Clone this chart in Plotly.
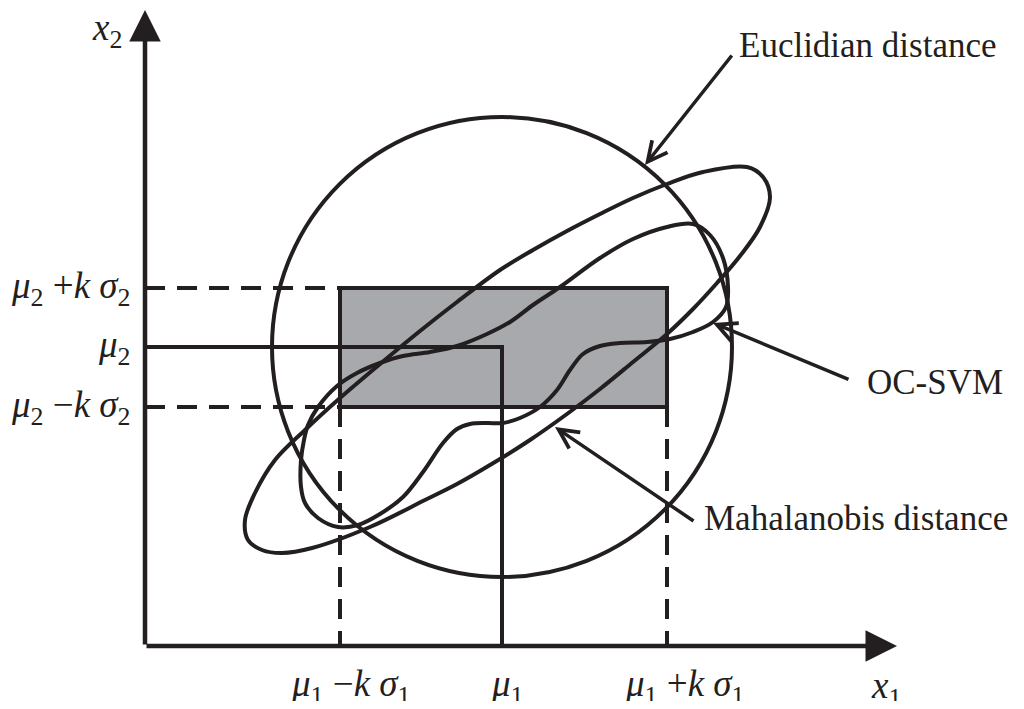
import plotly.graph_objects as go

# Chart units: 1 unit = 1 px, origin where the two axes meet.
INK = "#231f20"
GRAY = "#a7a9ac"
FONT = "Liberation Serif"

# Tick positions on x1 (mu1 - k sigma1, mu1, mu1 + k sigma1) and x2
x_ticks = [195, 357, 522]
y_ticks = [239, 299, 358]
x_tick_labels = ["<i>μ</i><sub>1</sub> −<i>k σ</i><sub>1</sub>",
                 "<i>μ</i><sub>1</sub>",
                 "<i>μ</i><sub>1</sub> +<i>k σ</i><sub>1</sub>"]
y_tick_labels = ["<i>μ</i><sub>2</sub> −<i>k σ</i><sub>2</sub>",
                 "<i>μ</i><sub>2</sub>",
                 "<i>μ</i><sub>2</sub> +<i>k σ</i><sub>2</sub>"]

# Euclidian boundary: circle round (mu1, mu2)
circle_radius = 230

# Mahalanobis boundary (traced ellipse)
ellipse_x = [312, 355, 388, 422, 455, 488, 522, 558, 602, 618, 625, 615,
             595, 572, 548, 522, 488, 455, 422, 385, 345, 312, 280, 225,
             167, 137, 117, 103, 100, 110, 130, 160, 195, 235, 275, 312]
ellipse_y = [344, 376, 396, 415, 432, 448, 462, 474, 479, 469, 449, 419,
             390, 363, 337, 312, 284, 257, 232, 206, 181, 162, 146, 119,
             98, 93, 96, 106, 126, 153, 186, 216, 248, 282, 315, 344]

# OC-SVM boundary (traced)
svm_x = [285, 312, 342, 365, 388, 415, 455, 488, 522, 548, 565, 578, 583,
         581, 568, 548, 525, 502, 475, 455, 438, 425, 412, 395, 375, 358,
         342, 325, 312, 298, 278, 258, 235, 213, 193, 173, 160, 156, 156,
         159, 163, 173, 192, 212, 235, 258, 285]
svm_y = [294, 300, 312, 324, 341, 359, 388, 407, 419, 422, 411, 388, 359,
         339, 324, 314, 307, 304, 303, 300, 292, 276, 256, 239, 228, 223,
         223, 222, 217, 203, 174, 149, 132, 121, 119, 128, 143, 159, 186,
         206, 221, 239, 260, 273, 283, 290, 294]

# Pointer arrows: (tip x, tip y, tail x, tail y) and their captions
pointers = [(500, 481, 588, 592), (568, 323, 705, 266), (410, 219, 550, 124)]
captions = ["Euclidian distance", "OC-SVM", "Mahalanobis distance"]
caption_pos = [(592, 601), (720, 264), (557, 128)]

fig = go.Figure()

# shaded k-sigma box
fig.add_shape(type="rect", x0=x_ticks[0], x1=x_ticks[2],
              y0=y_ticks[0], y1=y_ticks[2], fillcolor=GRAY,
              line=dict(color=INK, width=4), layer="below")

# circle
cx, cy = x_ticks[1], y_ticks[1]
fig.add_shape(type="circle", x0=cx - circle_radius, x1=cx + circle_radius,
              y0=cy - circle_radius, y1=cy + circle_radius,
              line=dict(color=INK, width=4), layer="below")

# dashed guide lines
fig.add_trace(go.Scatter(
    x=[0, x_ticks[0], None, 0, x_ticks[0], None,
       x_ticks[0], x_ticks[0], None, x_ticks[2], x_ticks[2]],
    y=[y_ticks[2], y_ticks[2], None, y_ticks[0], y_ticks[0], None,
       y_ticks[0], 0, None, y_ticks[0], 0],
    mode="lines", line=dict(color=INK, width=4, dash="20px,12px"),
    hoverinfo="skip"))

# solid mean lines
fig.add_trace(go.Scatter(
    x=[0, x_ticks[1], x_ticks[1]], y=[y_ticks[1], y_ticks[1], 0],
    mode="lines", line=dict(color=INK, width=4), hoverinfo="skip"))

# ellipse and OC-SVM curves
for xs, ys in [(ellipse_x, ellipse_y), (svm_x, svm_y)]:
    fig.add_trace(go.Scatter(
        x=xs, y=ys, mode="lines",
        line=dict(color=INK, width=4, shape="spline", smoothing=1),
        hoverinfo="skip"))

annotations = []

# coordinate axes with arrowheads
for tip, tail in [((752, 0), (0, 0)), ((0, 636), (0, 0))]:
    annotations.append(dict(
        x=tip[0], y=tip[1], ax=tail[0], ay=tail[1], xref="x", yref="y",
        axref="x", ayref="y", text="", showarrow=True, arrowhead=2,
        arrowsize=1.4, arrowwidth=4.5, arrowcolor=INK, font=dict(size=12)))

annotations.append(dict(x=-38, y=616, text="<i>x</i><sub>2</sub>",
                        showarrow=False, font=dict(size=37)))
annotations.append(dict(x=741, y=-42, text="<i>x</i><sub>1</sub>",
                        showarrow=False, font=dict(size=37)))

# tick labels
for xv, label, shift in zip(x_ticks, x_tick_labels, [11, 5, 18]):
    annotations.append(dict(x=xv, y=-40, text=label, showarrow=False,
                            xshift=shift, font=dict(size=37)))
for yv, label in zip(y_ticks, y_tick_labels):
    annotations.append(dict(x=-12, y=yv, text=label, showarrow=False,
                            xanchor="right", font=dict(size=37)))

# pointer arrows and captions
for (tx, ty, ax, ay), text, (px, py) in zip(pointers, captions, caption_pos):
    annotations.append(dict(
        x=tx, y=ty, ax=ax, ay=ay, xref="x", yref="y", axref="x",
        ayref="y", text="", showarrow=True, arrowhead=5, arrowsize=1.1,
        arrowwidth=3.5, arrowcolor=INK, font=dict(size=12)))
    annotations.append(dict(x=px, y=py, text=text, showarrow=False,
                            xanchor="left", font=dict(size=35)))

# the page body adds an 8px margin, so the figure is 16px smaller
fig.update_layout(
    width=1008, height=693,
    margin=dict(l=0, r=0, t=0, b=0),
    plot_bgcolor="white", paper_bgcolor="white",
    showlegend=False,
    font=dict(family=FONT, color=INK),
    xaxis=dict(range=[-137, 871], visible=False, fixedrange=True),
    yaxis=dict(range=[-55, 638], visible=False, fixedrange=True),
    annotations=annotations,
)

fig.write_html("out.html")
